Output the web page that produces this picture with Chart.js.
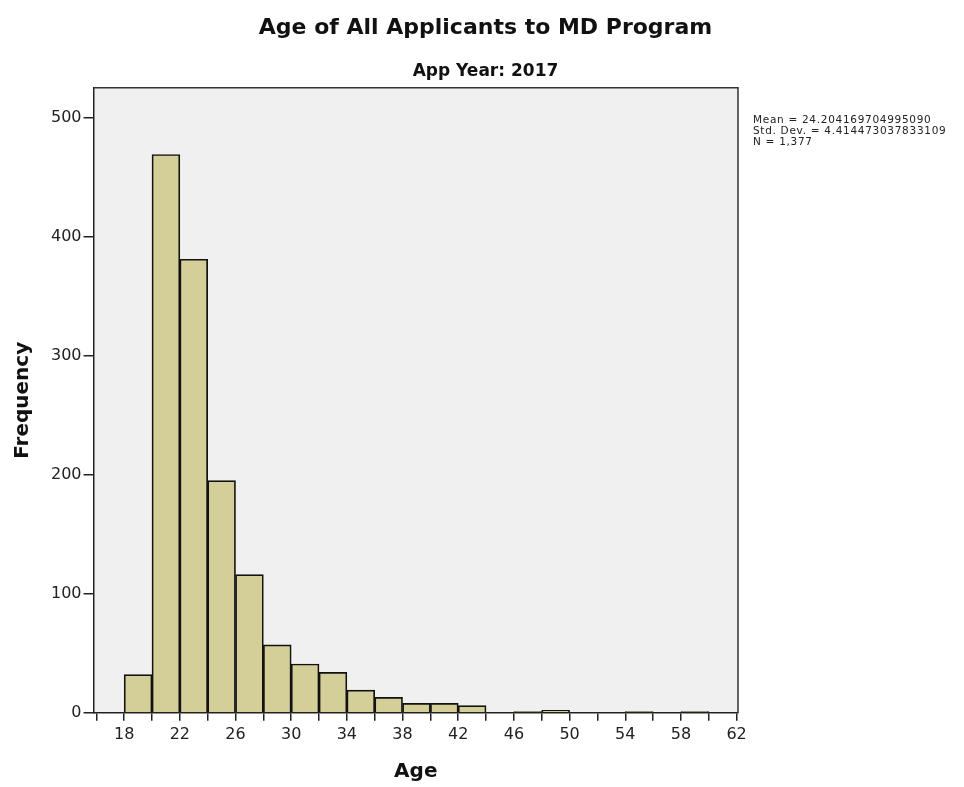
<!DOCTYPE html>
<html>
<head>
<meta charset="utf-8">
<script src="https://cdn.jsdelivr.net/npm/chart.js@4.4.0/dist/chart.umd.min.js"></script>
<style>
  html, body { margin: 0; padding: 0; background: #fff; }
  #wrap { width: 964px; height: 787px; }
</style>
</head>
<body>
<div id="wrap"><canvas id="myChart"></canvas></div>
<script>
//histogram bins are 2 years wide, x = bin centre
const binCenters = [19, 21, 23, 25, 27, 29, 31, 33, 35, 37, 39, 41, 43, 45, 47, 49, 51, 53, 55, 57, 59];
const frequencies = [32, 469, 381, 195, 116, 57, 41, 34, 19, 13, 8, 8, 6, null, 1, 2, null, null, 1, null, 1];

//tick marks along the axes
const xTicks = [16, 18, 20, 22, 24, 26, 28, 30, 32, 34, 36, 38, 40, 42, 44, 46, 48, 50, 52, 54, 56, 58, 60, 62];
const yTicks = [0, 100, 200, 300, 400, 500];

const statLines = ['Mean = 24.204169704995090', 'Std. Dev. = 4.414473037833109', 'N = 1,377'];

const FONT = '"DejaVu Sans", "Liberation Sans", sans-serif';

//plot background, box and the stats note on the right
const frame = {
  id: 'frame',
  beforeDraw(chart) {
    const {ctx, chartArea: a} = chart;
    ctx.save();
    ctx.fillStyle = '#f0f0f0';
    ctx.fillRect(a.left, a.top, a.right - a.left, a.bottom - a.top);
    ctx.restore();
  },
  afterDraw(chart) {
    const {ctx, chartArea: a} = chart;
    ctx.save();
    ctx.strokeStyle = '#333';
    ctx.lineWidth = 1.5;
    ctx.beginPath();
    ctx.moveTo(a.left, a.top);
    ctx.lineTo(a.right, a.top);
    ctx.lineTo(a.right, a.bottom);
    ctx.stroke();
    ctx.fillStyle = '#222';
    ctx.font = '10.5px ' + FONT;
    ctx.letterSpacing = '0.7px';
    ctx.textBaseline = 'middle';
    statLines.forEach((t, i) => ctx.fillText(t, a.right + 15, a.top + 32 + i * 11));
    ctx.restore();
  }
};

const ctx = document.getElementById('myChart').getContext('2d');
const myChart = new Chart(ctx, {
  type: 'bar',
  data: {
    datasets: [{
      data: binCenters.map((x, i) => ({x: x, y: frequencies[i]})),
      backgroundColor: '#d4cf98',
      borderColor: '#111',
      borderWidth: 1.7,
      barPercentage: 1,
      categoryPercentage: 1
    }]
  },
  plugins: [frame],
  options: {
    responsive: true,
    maintainAspectRatio: false,
    animation: false,
    layout: {padding: {left: 7, right: 0, top: 0, bottom: 0}},
    plugins: {
      legend: {display: false},
      tooltip: {enabled: false},
      title: {
        display: true,
        text: 'Age of All Applicants to MD Program',
        color: '#111',
        font: {family: FONT, size: 22, weight: 'bold'},
        padding: {top: 15, bottom: 20}
      },
      subtitle: {
        display: true,
        text: 'App Year: 2017',
        color: '#111',
        font: {family: FONT, size: 17, weight: 'bold'},
        padding: {bottom: 6}
      }
    },
    scales: {
      x: {
        type: 'linear',
        min: 15.8,
        max: 62.1,
        offset: false,
        afterBuildTicks: s => { s.ticks = xTicks.map(v => ({value: v})); },
        grid: {offset: false, drawOnChartArea: false, drawTicks: true, tickLength: 8, color: '#222', lineWidth: 1.5},
        border: {display: true, color: '#222', width: 1.5},
        ticks: {
          autoSkip: false,
          maxRotation: 0,
          color: '#222',
          padding: 4,
          font: {family: FONT, size: 16},
          callback: v => ((v - 18) % 4 === 0 ? v : '')
        },
        title: {display: true, text: 'Age', color: '#111', font: {family: FONT, size: 20, weight: 'bold'}, padding: {top: 12, bottom: 3}}
      },
      y: {
        min: 0,
        max: 525,
        afterBuildTicks: s => { s.ticks = yTicks.map(v => ({value: v})); },
        grid: {drawOnChartArea: false, drawTicks: true, tickLength: 10, color: '#222', lineWidth: 1.5},
        border: {display: true, color: '#222', width: 1.5},
        ticks: {color: '#222', padding: 2, font: {family: FONT, size: 16}},
        title: {display: true, text: 'Frequency', color: '#111', font: {family: FONT, size: 20, weight: 'bold'}, padding: {bottom: 14}}
      },
      //empty axis on the right only keeps room for the stats note
      side: {
        position: 'right',
        display: true,
        grid: {display: false},
        border: {display: false},
        ticks: {display: false},
        afterFit: s => { s.width = 226; }
      }
    }
  }
});
</script>
</body>
</html>
